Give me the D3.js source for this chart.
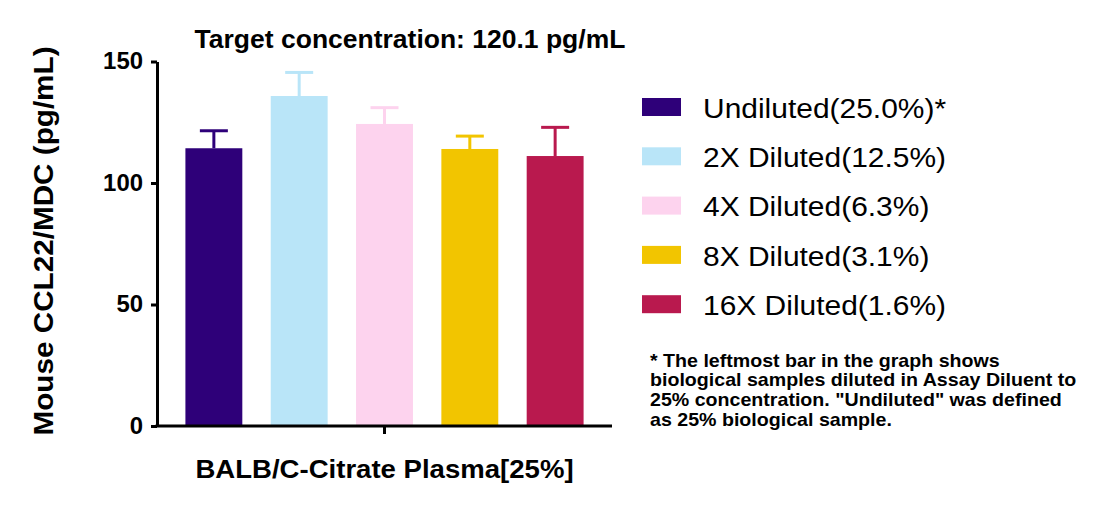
<!DOCTYPE html>
<html>
<head>
<meta charset="utf-8">
<script src="https://cdn.jsdelivr.net/npm/d3@7"></script>
<style>
  body { margin: 0; background: #fff; }
  text { font-family: "Liberation Sans", Arial, sans-serif; }
</style>
</head>
<body>
<svg id="chart" width="1098" height="507"></svg>
<script>
// data
const groups = ["Undiluted(25.0%)*", "2X Diluted(12.5%)", "4X Diluted(6.3%)", "8X Diluted(3.1%)", "16X Diluted(1.6%)"];
const means = [114.3, 135.8, 124.3, 114.0, 111.1];
const errors = [7.2, 9.7, 6.7, 5.3, 11.8];
const colors = ["#2e0079", "#b9e5f8", "#fdd3ee", "#f2c500", "#b9194e"];
const yTicks = [0, 50, 100, 150];
const footnote = [
    "* The leftmost bar in the graph shows",
    "biological samples diluted in Assay Diluent to",
    "25% concentration. \"Undiluted\" was defined",
    "as 25% biological sample."
];

const svg = d3.select("#chart");
const plotLeft = 157, plotRight = 612, plotTop = 61.5, plotBottom = 426;

const y = d3.scaleLinear().domain([0, 150]).range([plotBottom, plotTop]);
const x = d3.scaleBand().domain(groups).range([plotLeft, plotRight]).paddingInner(0.333).paddingOuter(0.333);

// the picture's text is a bit wider than Liberation Sans, so stretch it sideways
function wideText(parent, tx, ty, sx, rot) {
    const g = parent.append("g")
        .attr("transform", `translate(${tx},${ty})` + (rot ? ` rotate(${rot})` : "") + ` scale(${sx},1)`);
    return g.append("text");
}

// bars
svg.selectAll("rect.bar")
    .data(groups)
    .enter().append("rect")
    .attr("class", "bar")
    .attr("x", d => x(d))
    .attr("width", x.bandwidth())
    .attr("y", (d, i) => y(means[i]))
    .attr("height", (d, i) => y(0) - y(means[i]))
    .attr("fill", (d, i) => colors[i]);

// error bars (upper only)
const err = svg.append("g");
groups.forEach((g, i) => {
    const cx = x(g) + x.bandwidth() / 2;
    err.append("line")
        .attr("x1", cx).attr("x2", cx)
        .attr("y1", y(means[i])).attr("y2", y(means[i] + errors[i]))
        .attr("stroke", colors[i]).attr("stroke-width", 3);
    err.append("line")
        .attr("x1", cx - 14).attr("x2", cx + 14)
        .attr("y1", y(means[i] + errors[i])).attr("y2", y(means[i] + errors[i]))
        .attr("stroke", colors[i]).attr("stroke-width", 3);
});

// y axis
const yAxis = svg.append("g")
    .attr("transform", `translate(${plotLeft},0)`)
    .call(d3.axisLeft(y).tickValues(yTicks).tickSize(6).tickPadding(8).tickSizeOuter(0));
yAxis.select(".domain").attr("stroke", "#000").attr("stroke-width", 3);
yAxis.selectAll(".tick line").attr("stroke", "#000").attr("stroke-width", 3);
yAxis.selectAll(".tick text")
    .attr("font-size", 23).attr("font-weight", "bold").attr("fill", "#000")
    .attr("font-family", "Liberation Sans, Arial, sans-serif")
    .attr("transform", "scale(1.04,1)")
    .attr("x", -14 / 1.04);

// x axis
svg.append("line")
    .attr("x1", plotLeft - 1.5).attr("x2", plotRight)
    .attr("y1", plotBottom).attr("y2", plotBottom)
    .attr("stroke", "#000").attr("stroke-width", 3);
svg.append("line")
    .attr("x1", (plotLeft + plotRight) / 2).attr("x2", (plotLeft + plotRight) / 2)
    .attr("y1", plotBottom).attr("y2", plotBottom + 8)
    .attr("stroke", "#000").attr("stroke-width", 3);

// titles
wideText(svg, 410, 47.5, 1.06)
    .attr("text-anchor", "middle")
    .attr("font-size", 25).attr("font-weight", "bold")
    .text("Target concentration: 120.1 pg/mL");

wideText(svg, 384.5, 478, 1.06)
    .attr("text-anchor", "middle")
    .attr("font-size", 26).attr("font-weight", "bold")
    .text("BALB/C-Citrate Plasma[25%]");

wideText(svg, 52.5, 241, 1.06, -90)
    .attr("text-anchor", "middle")
    .attr("font-size", 28).attr("font-weight", "bold")
    .text("Mouse CCL22/MDC (pg/mL)");

// legend
const legend = svg.append("g").attr("transform", "translate(642,98)");
groups.forEach((g, i) => {
    const row = legend.append("g").attr("transform", `translate(0,${i * 49.3})`);
    row.append("rect")
        .attr("width", 39).attr("height", 18)
        .attr("fill", colors[i]);
    wideText(row, 61, 19.8, 1.07)
        .attr("font-size", 28)
        .text(g);
});

// footnote
wideText(svg, 650, 366.5, 1.09)
    .attr("font-size", 18).attr("font-weight", "bold")
    .selectAll("tspan")
    .data(footnote)
    .enter().append("tspan")
    .attr("x", 0)
    .attr("dy", (d, i) => i === 0 ? 0 : 19.7)
    .text(d => d);
</script>
</body>
</html>
